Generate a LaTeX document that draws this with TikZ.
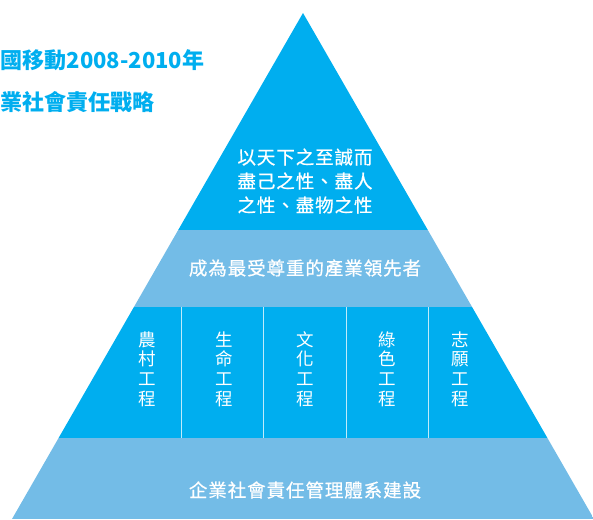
\documentclass[tikz,border=0pt]{standalone}
\usepackage{fontspec}
\setmainfont{Noto Sans CJK TC}
\definecolor{cmblue}{HTML}{00AEEF}
\definecolor{cmlight}{HTML}{73BCE7}

\tikzset{
  core/.style={fill=cmblue},
  band/.style={fill=cmlight},
  sep/.style={draw=white!75!cmblue, line width=0.8pt},
  lbl/.style={text=white, align=center, inner sep=0pt,
    font=\fontsize{18.5}{24}\selectfont\addfontfeatures{LetterSpace=5,FakeBold=0.7}},
  col/.style={text=white, align=center, inner sep=0pt,
    font=\fontsize{17.5}{19.7}\selectfont},
  ttl/.style={text=cmblue, anchor=west, inner sep=0pt,
    font=\fontsize{22}{22}\selectfont\bfseries},
}

\begin{document}
\begin{tikzpicture}[x=1pt,y=-1pt]
\useasboundingbox (0,0) rectangle (593,519);

% pyramid
\coordinate (apex) at (303,13);
\coordinate (bl) at (12,519);
\coordinate (br) at (594,519);
\begin{scope}
\clip (apex) -- (bl) -- (br) -- cycle;
\fill[core] (0,0) rectangle (593,230);
\fill[band] (0,230) rectangle (593,307);
\fill[core] (0,307) rectangle (593,438);
\fill[band] (0,438) rectangle (593,519);
\end{scope}

% column separators
\foreach \x in {181,263,346,428}
  \draw[sep] (\x,307) -- (\x,438);

% title
\node[ttl] (title1) at (0.5,60) {國移動2008-2010年};
\node[ttl] (title2) at (0.5,102) {業社會責任戰略};

% levels
\node[lbl] (vision) at (305,181) {以天下之至誠而\\盡己之性、盡人\\之性、盡物之性};
\node[lbl] (mission) at (305,268) {成為最受尊重的產業領先者};

\node[col] (rural) at (147,369) {農\\村\\工\\程};
\node[col] (life) at (224,369) {生\\命\\工\\程};
\node[col] (culture) at (305,369) {文\\化\\工\\程};
\node[col] (green) at (387,369) {綠\\色\\工\\程};
\node[col] (volunteer) at (460,369) {志\\願\\工\\程};

\node[lbl] (base) at (305,490) {企業社會責任管理體系建設};
\end{tikzpicture}
\end{document}
